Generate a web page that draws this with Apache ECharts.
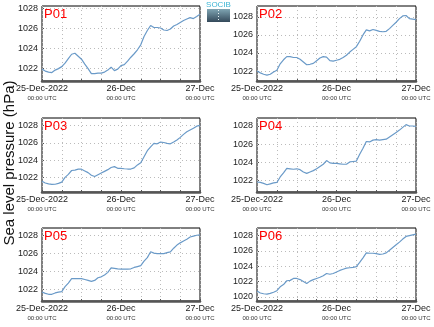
<!DOCTYPE html>
<html><head><meta charset="utf-8">
<script src="https://cdn.jsdelivr.net/npm/echarts@6/dist/echarts.min.js"></script>
<style>html,body{margin:0;padding:0;background:#fff}#c{width:434px;height:327px}</style>
</head><body><div id="c"></div>
<script>
// hours since 25-Dec-2022 00:00 UTC
const hours = Array.from({length: 49}, (_, i) => i);
const stationNames = ['P01', 'P02', 'P03', 'P04', 'P05', 'P06'];
const dayLabels = ['25-Dec-2022', '26-Dec', '27-Dec'];
const dayHours = [0, 24, 48];
const timeLabel = '00:00 UTC';
const yLabel = 'Sea level pressure (hPa)';

const p01 = [1021.9,1021.7,1021.6,1021.55,1021.8,1021.95,1022.15,1022.5,1022.95,1023.4,1023.5,1023.2,1022.9,1022.4,1021.95,1021.45,1021.45,1021.5,1021.5,1021.6,1021.8,1022.1,1021.75,1021.9,1022.25,1022.35,1022.7,1023.1,1023.45,1023.85,1024.35,1025.2,1025.8,1026.3,1026.1,1026.1,1026.05,1025.85,1025.8,1025.95,1026.25,1026.4,1026.6,1026.8,1026.95,1027.1,1027.0,1027.2,1027.45];
const p02 = [1022.0,1021.8,1021.65,1021.55,1021.65,1021.9,1022.1,1022.8,1023.25,1023.6,1023.6,1023.5,1023.5,1023.3,1023.0,1022.7,1022.75,1022.85,1023.15,1023.45,1023.6,1023.55,1023.15,1023.1,1023.2,1023.3,1023.5,1023.75,1024.1,1024.4,1024.7,1025.3,1026.0,1026.55,1026.45,1026.6,1026.5,1026.4,1026.35,1026.4,1026.7,1027.05,1027.4,1027.8,1028.1,1028.15,1027.8,1027.75,1027.7];
const p03 = [1021.55,1021.35,1021.25,1021.18,1021.2,1021.3,1021.45,1022.0,1022.35,1022.8,1022.85,1022.95,1022.95,1022.75,1022.55,1022.25,1022.1,1022.3,1022.5,1022.7,1022.9,1023.15,1023.25,1023.05,1023.05,1023.0,1022.97,1022.97,1023.1,1023.45,1023.7,1024.4,1025.1,1025.55,1025.95,1025.9,1026.1,1026.05,1025.95,1025.9,1026.1,1026.35,1026.65,1027.0,1027.3,1027.5,1027.7,1027.95,1028.05];
const p04 = [1021.85,1021.8,1021.7,1021.55,1021.65,1021.75,1021.8,1022.4,1022.85,1023.35,1023.3,1023.25,1023.3,1023.2,1022.95,1022.8,1022.95,1023.1,1023.3,1023.55,1023.8,1024.2,1023.95,1023.9,1023.9,1023.85,1023.8,1023.8,1024.05,1024.1,1024.15,1024.9,1025.55,1026.3,1026.25,1026.45,1026.5,1026.45,1026.5,1026.55,1026.8,1027.05,1027.3,1027.55,1027.85,1028.15,1028.0,1028.0,1027.95];
const p05 = [1021.7,1021.55,1021.45,1021.45,1021.6,1021.7,1021.75,1022.3,1022.7,1023.2,1023.2,1023.2,1023.2,1023.1,1023.0,1022.9,1023.0,1023.3,1023.4,1023.6,1023.9,1024.4,1024.35,1024.3,1024.27,1024.27,1024.27,1024.3,1024.45,1024.55,1024.65,1025.15,1025.55,1026.2,1026.05,1026.0,1026.0,1026.0,1026.1,1026.2,1026.6,1026.95,1027.2,1027.4,1027.6,1027.85,1027.95,1028.05,1028.1];
const p06 = [1020.75,1020.5,1020.4,1020.35,1020.45,1020.6,1020.8,1021.3,1021.6,1022.1,1022.15,1022.4,1022.4,1022.25,1022.0,1021.75,1022.05,1022.25,1022.4,1022.55,1022.75,1023.05,1022.95,1023.05,1023.25,1023.45,1023.6,1023.75,1023.8,1023.85,1023.95,1024.5,1025.1,1025.75,1025.7,1025.7,1025.65,1025.55,1025.6,1025.75,1026.1,1026.45,1026.8,1027.15,1027.55,1027.9,1028.0,1028.1,1028.2];

const yMins = [1020.7, 1020.9, 1020.3, 1020.75, 1020.7, 1019.45];
const yMaxs = [1028.27, 1029.2, 1028.9, 1028.88, 1028.86, 1029.0];
const yTicks = [
  [1022, 1024, 1026, 1028],
  [1022, 1024, 1026, 1028],
  [1022, 1024, 1026, 1028],
  [1022, 1024, 1026, 1028],
  [1022, 1024, 1026, 1028],
  [1020, 1022, 1024, 1026, 1028]
];
const seriesValues = [p01, p02, p03, p04, p05, p06];

const boxes = [
  {left: 42, top: 6, width: 158, height: 75},
  {left: 257, top: 6, width: 159, height: 75},
  {left: 42, top: 118, width: 158, height: 74},
  {left: 257, top: 118, width: 159, height: 74},
  {left: 42, top: 228, width: 158, height: 73},
  {left: 257, top: 228, width: 159, height: 73}
];

const FONT = 'Liberation Sans, Arial, sans-serif';
const gridLine = {type: [1, 3], color: '#bbb', width: 1};
const grids = [], xAxes = [], yAxes = [], series = [], titles = [];
boxes.forEach((b, i) => {
  grids.push({left: b.left, top: b.top, width: b.width, height: b.height, show: true,
    borderColor: '#000', borderWidth: 1, backgroundColor: 'transparent'});
  xAxes.push({
    type: 'value', gridIndex: i, min: 0, max: 48, interval: 6,
    axisLine: {show: true, onZero: false, lineStyle: {color: '#555', width: 2.5}},
    axisTick: {show: true, inside: true, length: 2, lineStyle: {color: '#555'}},
    splitLine: {show: true, lineStyle: gridLine},
    axisLabel: {
      margin: 3, fontFamily: FONT,
      formatter: v => {
        const k = dayHours.indexOf(v);
        return k < 0 ? '' : '{a|' + dayLabels[k] + '}\n{b|' + timeLabel + '}';
      },
      rich: {
        a: {fontSize: 9, color: '#222', lineHeight: 10, fontFamily: FONT},
        b: {fontSize: 6, color: '#333', lineHeight: 9, fontFamily: FONT}
      }
    }
  });
  yAxes.push({
    type: 'value', gridIndex: i, min: yMins[i], max: yMaxs[i],
    axisLine: {show: false},
    axisTick: {show: true, inside: true, length: 2, customValues: yTicks[i], lineStyle: {color: '#555'}},
    axisLabel: {customValues: yTicks[i], fontSize: 9, color: '#222', margin: 4, fontFamily: FONT,
      formatter: v => String(Math.round(v))},
    splitLine: {show: false}
  });
  series.push({
    type: 'line', xAxisIndex: i, yAxisIndex: i, showSymbol: false, symbol: 'none',
    lineStyle: {color: '#6a9ac8', width: 1.2}, silent: true, animation: false, z: 3,
    data: hours.map((h, j) => [h, seriesValues[i][j]]),
    markLine: {silent: true, symbol: 'none', label: {show: false}, animation: false,
      lineStyle: gridLine, emphasis: {disabled: true}, z: 1,
      data: yTicks[i].map(v => ({yAxis: v}))}
  });
  titles.push({text: stationNames[i], left: b.left + 2, top: b.top + 2, padding: 0,
    textStyle: {color: '#f00', fontSize: 13, fontWeight: 'normal', fontFamily: FONT}});
});

const chart = echarts.init(document.getElementById('c'), null, {renderer: 'canvas'});
chart.setOption({
  animation: false,
  backgroundColor: '#fff',
  title: titles,
  grid: grids, xAxis: xAxes, yAxis: yAxes, series: series,
  graphic: [
    {type: 'text', x: 10, y: 163, rotation: Math.PI / 2,
      style: {text: yLabel, fontSize: 15, fill: '#111', fontFamily: FONT, align: 'center', verticalAlign: 'middle'}},
    {type: 'rect', shape: {x: 207, y: 9, width: 23, height: 13},
      style: {fill: new echarts.graphic.LinearGradient(0, 0, 0, 1, [
        {offset: 0, color: '#7fa5b3'}, {offset: 1, color: '#34495a'}])}},
    {type: 'line', shape: {x1: 218.5, y1: 10, x2: 218.5, y2: 21},
      style: {stroke: '#e8f2f5', lineWidth: 1, lineDash: [1, 2]}},
    {type: 'text', x: 218.5, y: 5, style: {text: 'SOCIB', fontSize: 8, fill: '#3bb4d4',
      fontFamily: FONT, align: 'center', verticalAlign: 'middle'}}
  ]
});
</script></body></html>
